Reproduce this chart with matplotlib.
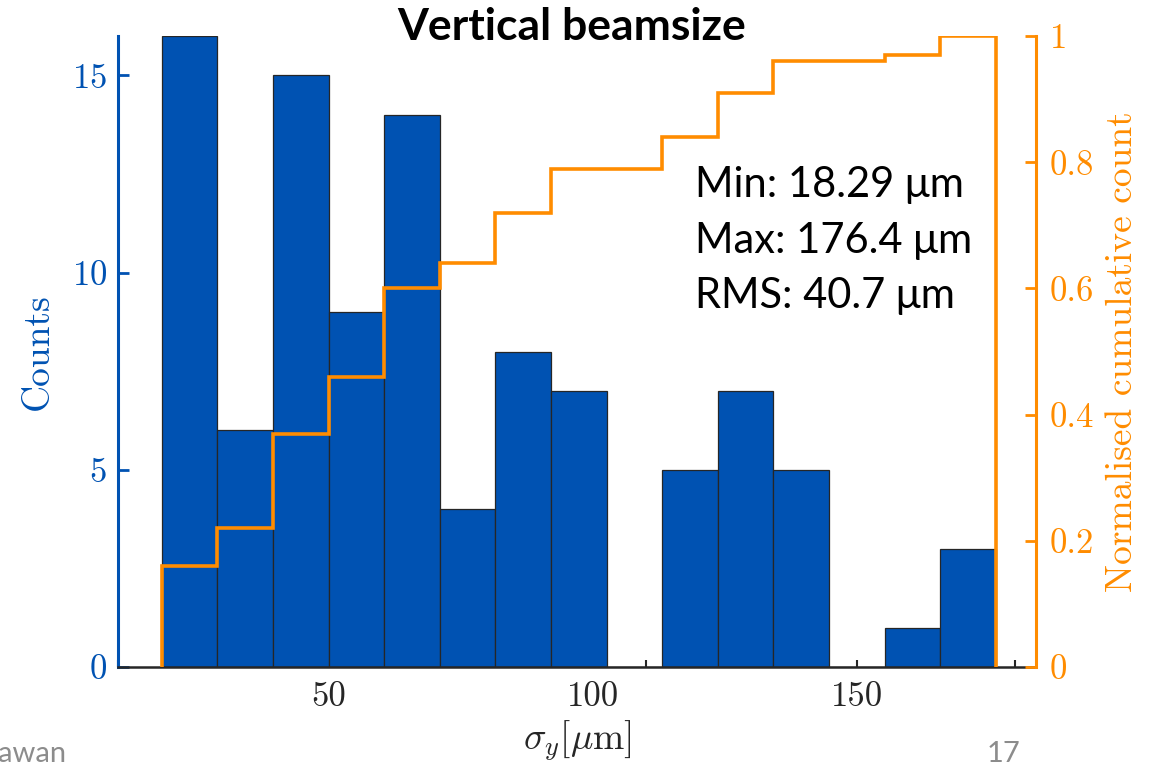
#!/usr/bin/env python3
"""Vertical beamsize histogram with cumulative count"""
import matplotlib
matplotlib.use('Agg')
import matplotlib.pyplot as plt
from matplotlib.ticker import FixedLocator, FuncFormatter
import numpy as np

# LaTeX-like look for axes, sans for slide text
plt.rcParams['font.family'] = 'serif'
plt.rcParams['font.serif'] = ['cmr10', 'DejaVu Serif']
plt.rcParams['mathtext.fontset'] = 'cm'
plt.rcParams['axes.formatter.use_mathtext'] = True
plt.rcParams['axes.unicode_minus'] = False

# ------------------------------------------------------------
# Data
# ------------------------------------------------------------
x_min = 18.29
x_max = 176.4
counts = [16, 6, 15, 9, 14, 4, 8, 7, 0, 5, 7, 5, 0, 1, 3]
stat_names = ['Min', 'Max', 'RMS']
stat_values = ['18.29', '176.4', '40.7']

edges = np.linspace(x_min, x_max, len(counts) + 1)
cumulative = np.cumsum(counts) / np.sum(counts)

blue = '#0052B2'
orange = '#FF8C00'
dark = '#262626'
sans = ['Lato', 'DejaVu Sans']

fig = plt.figure(figsize=(11.58, 7.65), dpi=100)
ax = fig.add_axes([118/1158, 98/765, (1036-118)/1158, (667-36)/765])

ax.bar(edges[:-1], counts, width=np.diff(edges), align='edge',
       color=blue, edgecolor=dark, linewidth=0.9, zorder=1)
ax.set_axisbelow(True)

ax.set_xlim(10, 184)
ax.set_ylim(0, 16)

ax.xaxis.set_major_locator(FixedLocator(np.arange(10, 190, 10)))
ax.xaxis.set_major_formatter(FuncFormatter(lambda v, p: f'{v:.0f}' if round(v) % 50 == 0 else ''))
ax.set_yticks([0, 5, 10, 15])

ax.tick_params(axis='x', direction='in', length=5, width=1.5, color=dark,
               labelcolor=dark, labelsize=25, pad=10)
ax.tick_params(axis='y', direction='in', length=8, width=2, color=blue,
               labelcolor=blue, labelsize=25, pad=8)

for s in ['top', 'right']:
    ax.spines[s].set_visible(False)
ax.spines['left'].set_color(blue)
ax.spines['left'].set_linewidth(2.2)
ax.spines['bottom'].set_color(dark)
ax.spines['bottom'].set_linewidth(1.8)

ax.set_xlabel(r'$\sigma_y[\mu\mathrm{m}]$', fontsize=27, color=dark, labelpad=4)
ax.set_ylabel('Counts', fontsize=27, color=blue, labelpad=12)

# cumulative on right axis
ax2 = ax.twinx()
ax2.stairs(cumulative, edges, baseline=0, color=orange, linewidth=2.6)
ax2.set_ylim(0, 1)
ax2.set_yticks([0, 0.2, 0.4, 0.6, 0.8, 1])
ax2.yaxis.set_major_formatter(FuncFormatter(lambda v, p: f'{v:g}'))
ax2.tick_params(axis='y', direction='in', length=8, width=2, color=orange,
                labelcolor=orange, labelsize=25, pad=10)
for s in ['top', 'left', 'bottom']:
    ax2.spines[s].set_visible(False)
ax2.spines['right'].set_color(orange)
ax2.spines['right'].set_linewidth(2.2)
ax2.set_ylabel('Normalised cumulative count', fontsize=27, color=orange, labelpad=8)

# title and stats box
fig.text(572/1158, 1 - 40/765, 'Vertical beamsize', ha='center', va='baseline',
         fontsize=32, fontweight='bold', family=sans)
for i, (name, val) in enumerate(zip(stat_names, stat_values)):
    fig.text(695/1158, 1 - (197 + 55.5*i)/765, f'{name}: {val} \u03bcm',
             ha='left', va='baseline', fontsize=30, color='black', family=sans)

# slide footer remnants
fig.text(-2/1158, 1 - 762/765, 'awan', ha='left', va='baseline', fontsize=21,
         color='#8c8c8c', family=sans)
fig.text(1020/1158, 1 - 762/765, '17', ha='right', va='baseline', fontsize=21,
         color='#8c8c8c', family=sans)

fig.savefig('out.png', dpi=100)
plt.close()
print('out.png done')
